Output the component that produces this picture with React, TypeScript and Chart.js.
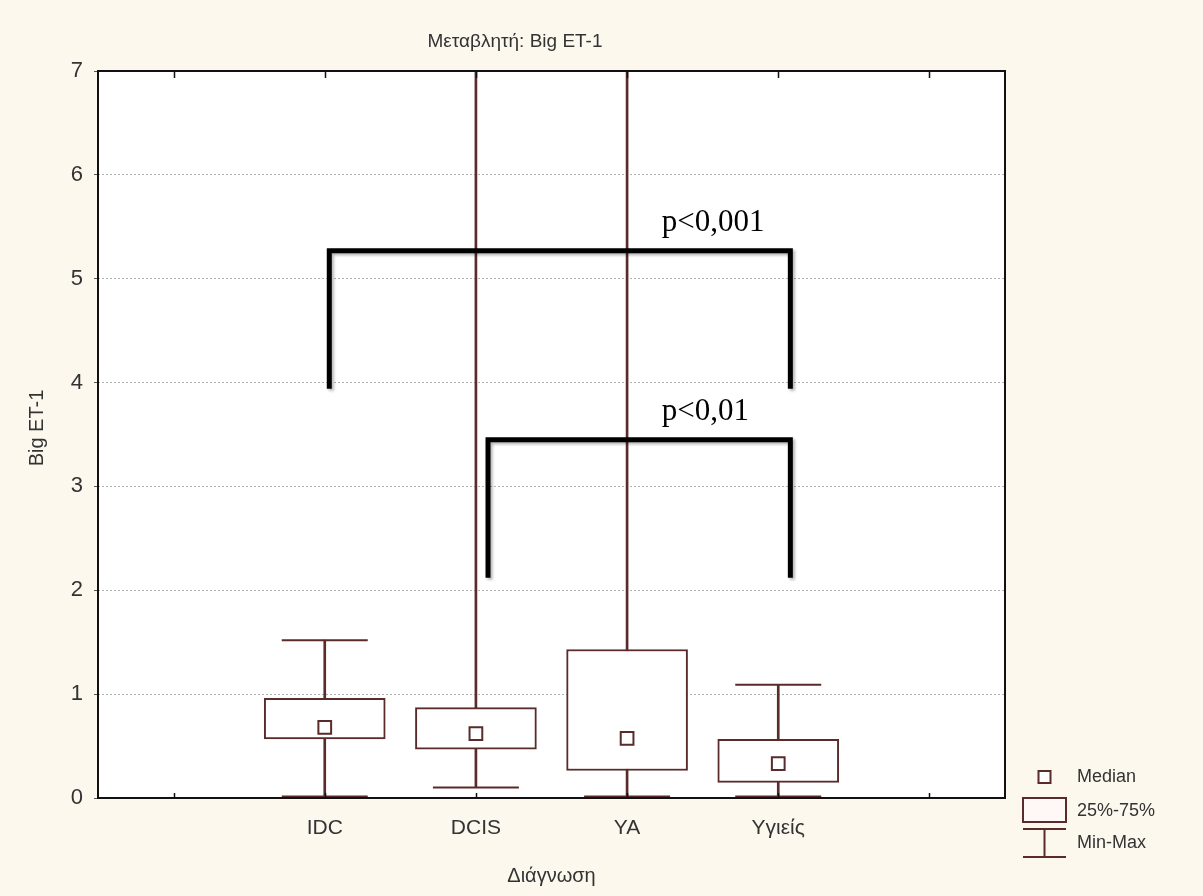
import React, { useEffect, useRef } from "react";
import { Chart, registerables } from "chart.js";

Chart.register(...registerables);

// Diagnosis groups; the empty slots pad the axis on both sides
const CATEGORIES = ["", "IDC", "DCIS", "YA", "Yγιείς", ""];
const MIN_VALUES = [null, 0.015, 0.1, 0.015, 0.015, null];
const MAX_VALUES = [null, 1.52, 9.4, 10.8, 1.09, null];
const Q1_VALUES = [null, 0.57, 0.47, 0.265, 0.15, null];
const Q3_VALUES = [null, 0.96, 0.87, 1.43, 0.565, null];
const MEDIAN_VALUES = [null, 0.68, 0.62, 0.575, 0.33, null];

const Y_MIN = 0;
const Y_MAX = 7;
const Y_STEP = 1;

const TITLE = "Μεταβλητή: Big ET-1";
const X_TITLE = "Διάγνωση";
const Y_TITLE = "Big ET-1";
const LEGEND_LABELS = ["Median", "25%-75%", "Min-Max"];

// Significance brackets (x in category units, y in Big ET-1 units)
const BRACKET_LABELS = ["p<0,001", "p<0,01"];
const BRACKET_X_FROM = [1.03, 2.08];
const BRACKET_X_TO = [4.08, 4.08];
const BRACKET_Y_TOP = [5.27, 3.45];
const BRACKET_Y_LEGS = [3.94, 2.12];
const BRACKET_LABEL_X = [3.23, 3.23];
const BRACKET_LABEL_Y = [5.46, 3.64];

const BROWN = "#5a2b2b";
const TEXT = "#333333";
const PAGE_BG = "#fcf8ee";
const SANS = "'Liberation Sans', Arial, sans-serif";
const SERIF = "'Liberation Serif', 'Times New Roman', serif";

const decorations = {
  id: "decorations",
  beforeDraw(chart: any) {
    const { ctx, chartArea: a, width, height } = chart;
    ctx.save();
    ctx.fillStyle = PAGE_BG;
    ctx.fillRect(0, 0, width, height);
    ctx.fillStyle = "#ffffff";
    ctx.fillRect(a.left, a.top, a.right - a.left, a.bottom - a.top);
    ctx.restore();
  },
  afterDatasetsDraw(chart: any) {
    const { ctx, chartArea: a } = chart;
    const xs = chart.scales.x;
    const ys = chart.scales.y;
    ctx.save();

    // plot frame
    ctx.strokeStyle = "#111";
    ctx.lineWidth = 2;
    ctx.strokeRect(a.left, a.top, a.right - a.left, a.bottom - a.top);

    // inward tick marks on top and bottom edges
    ctx.lineWidth = 1.5;
    ctx.beginPath();
    for (let i = 0; i < CATEGORIES.length; i++) {
      const x = Math.round(xs.getPixelForValue(i)) + 0.5;
      ctx.moveTo(x, a.top);
      ctx.lineTo(x, a.top + 7);
      ctx.moveTo(x, a.bottom);
      ctx.lineTo(x, a.bottom - 5);
    }
    ctx.stroke();

    // significance brackets
    ctx.save();
    ctx.shadowColor = "rgba(0,0,0,0.3)";
    ctx.shadowBlur = 3;
    ctx.shadowOffsetX = 2;
    ctx.shadowOffsetY = 2;
    ctx.strokeStyle = "#000";
    ctx.lineWidth = 5;
    ctx.lineJoin = "miter";
    ctx.lineCap = "butt";
    for (let i = 0; i < BRACKET_LABELS.length; i++) {
      const x1 = xs.getPixelForValue(BRACKET_X_FROM[i]);
      const x2 = xs.getPixelForValue(BRACKET_X_TO[i]);
      const yt = ys.getPixelForValue(BRACKET_Y_TOP[i]);
      const yb = ys.getPixelForValue(BRACKET_Y_LEGS[i]);
      ctx.beginPath();
      ctx.moveTo(x1, yb);
      ctx.lineTo(x1, yt);
      ctx.lineTo(x2, yt);
      ctx.lineTo(x2, yb);
      ctx.stroke();
    }
    ctx.restore();

    ctx.fillStyle = "#000";
    ctx.font = `31px ${SERIF}`;
    ctx.textAlign = "left";
    ctx.textBaseline = "alphabetic";
    for (let i = 0; i < BRACKET_LABELS.length; i++) {
      ctx.fillText(
        BRACKET_LABELS[i],
        xs.getPixelForValue(BRACKET_LABEL_X[i]),
        ys.getPixelForValue(BRACKET_LABEL_Y[i])
      );
    }
    ctx.restore();
  },
  afterDraw(chart: any) {
    const { ctx, chartArea: a } = chart;
    ctx.save();
    ctx.fillStyle = TEXT;
    ctx.textBaseline = "middle";
    ctx.textAlign = "center";

    // chart title
    ctx.font = `19px ${SANS}`;
    ctx.fillText(TITLE, 515, 42);

    // axis titles
    ctx.font = `20px ${SANS}`;
    ctx.fillText(X_TITLE, (a.left + a.right) / 2, 876);
    ctx.save();
    ctx.translate(37, 428);
    ctx.rotate(-Math.PI / 2);
    ctx.fillText(Y_TITLE, 0, 0);
    ctx.restore();

    // legend
    const lx = a.right + 18;
    const iconW = 43;
    const cx = lx + iconW / 2;
    const tx = lx + 54;
    ctx.strokeStyle = BROWN;
    ctx.lineWidth = 2;
    ctx.fillStyle = "#ffffff";
    ctx.fillRect(cx - 6, 771, 12, 12);
    ctx.strokeRect(cx - 6, 771, 12, 12);
    ctx.fillStyle = "#fff8f6";
    ctx.fillRect(lx, 798, iconW, 24);
    ctx.strokeRect(lx, 798, iconW, 24);
    ctx.beginPath();
    ctx.moveTo(lx, 829);
    ctx.lineTo(lx + iconW, 829);
    ctx.moveTo(cx, 829);
    ctx.lineTo(cx, 857);
    ctx.moveTo(lx, 857);
    ctx.lineTo(lx + iconW, 857);
    ctx.stroke();

    ctx.fillStyle = TEXT;
    ctx.textAlign = "left";
    ctx.font = `18px ${SANS}`;
    ctx.fillText(LEGEND_LABELS[0], tx, 777);
    ctx.fillText(LEGEND_LABELS[1], tx, 811);
    ctx.fillText(LEGEND_LABELS[2], tx, 843);
    ctx.restore();
  },
};

export default function App() {
  const canvasRef = useRef<HTMLCanvasElement | null>(null);

  useEffect(() => {
    const canvas = canvasRef.current;
    if (!canvas) return;

    const boxes = Q1_VALUES.map((q, i) => (q == null ? null : [q, Q3_VALUES[i] as number]));
    const whiskers = MIN_VALUES.map((m, i) => (m == null ? null : [m, MAX_VALUES[i] as number]));

    const chart = new Chart(canvas, {
      type: "bar",
      data: {
        labels: CATEGORIES,
        datasets: [
          {
            type: "line",
            label: "Median",
            data: MEDIAN_VALUES as any,
            showLine: false,
            pointStyle: "rect",
            pointRadius: 9,
            pointBorderWidth: 2,
            pointBorderColor: BROWN,
            pointBackgroundColor: "#ffffff",
            borderColor: BROWN,
            order: 1,
            clip: 0,
          } as any,
          {
            type: "line",
            label: "Max",
            data: MAX_VALUES as any,
            showLine: false,
            pointStyle: "line",
            pointRadius: 43,
            pointBorderWidth: 2,
            pointBorderColor: BROWN,
            borderColor: BROWN,
            order: 2,
            clip: 0,
          } as any,
          {
            type: "line",
            label: "Min",
            data: MIN_VALUES as any,
            showLine: false,
            pointStyle: "line",
            pointRadius: 43,
            pointBorderWidth: 2,
            pointBorderColor: BROWN,
            borderColor: BROWN,
            order: 2,
            clip: 0,
          } as any,
          {
            type: "bar",
            label: "25%-75%",
            data: boxes as any,
            backgroundColor: "#ffffff",
            borderColor: BROWN,
            borderWidth: 2,
            borderSkipped: false,
            barThickness: 121,
            grouped: false,
            order: 3,
            clip: 0,
          } as any,
          {
            type: "bar",
            label: "Min-Max",
            data: whiskers as any,
            backgroundColor: BROWN,
            borderWidth: 0,
            barThickness: 2,
            grouped: false,
            order: 4,
            clip: 0,
          } as any,
        ],
      },
      options: {
        responsive: false,
        animation: false,
        events: [],
        layout: { padding: { top: 71, right: 198, left: 0, bottom: 0 } },
        plugins: {
          legend: { display: false },
          tooltip: { enabled: false },
          title: { display: false },
        },
        scales: {
          x: {
            type: "category",
            offset: true,
            grid: { display: false, drawTicks: false },
            border: { display: false },
            ticks: {
              color: TEXT,
              font: { family: SANS, size: 21 },
              padding: 18,
              autoSkip: false,
              maxRotation: 0,
            },
            afterFit: (s: any) => {
              s.height = 98;
            },
          },
          y: {
            type: "linear",
            min: Y_MIN,
            max: Y_MAX,
            grid: {
              color: "#b0b0b0",
              lineWidth: 1,
              tickLength: 4,
              tickColor: "#555",
            },
            border: { display: false, dash: [2, 2] },
            ticks: {
              stepSize: Y_STEP,
              color: TEXT,
              font: { family: SANS, size: 22 },
              padding: 11,
            },
            afterFit: (s: any) => {
              s.width = 98;
            },
          },
        },
      },
      plugins: [decorations],
    });

    return () => chart.destroy();
  }, []);

  return (
    <div style={{ position: "absolute", left: 0, top: 0, width: 1203, height: 896 }}>
      <canvas ref={canvasRef} width={1203} height={896} style={{ display: "block" }} />
    </div>
  );
}
